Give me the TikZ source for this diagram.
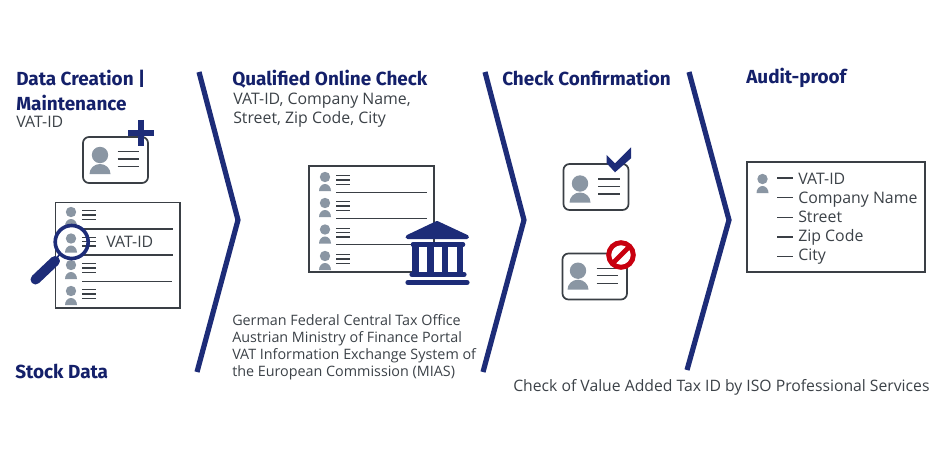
\documentclass[tikz,border=0pt]{standalone}
\usepackage{fontspec}
\setmainfont{Open Sans}
\newfontfamily\headfont{Fira Sans}
\definecolor{navy}{HTML}{1D2C78}
\definecolor{headnavy}{HTML}{14206A}
\definecolor{pgray}{HTML}{8A96A3}
\definecolor{dark}{HTML}{3A3F45}
\definecolor{txt}{HTML}{3C4248}
\definecolor{stopred}{HTML}{C8000F}
\tikzset{
 chev/.style={draw=navy,line width=3.9pt,line join=miter},
 head/.style={inner sep=0pt,anchor=west,text=headnavy,font=\headfont\bfseries\fontsize{14.2pt}{17pt}\selectfont},
 body/.style={inner sep=0pt,anchor=base west,text=txt,font=\fontsize{11.9pt}{14pt}\selectfont},
 small/.style={body,font=\fontsize{10.75pt}{14pt}\selectfont},
 frame/.style={draw=dark,line width=0.95pt},
 rule/.style={draw=dark,line width=0.95pt},
 ln/.style={draw=dark,line width=1.05pt},
 idcard/.style={draw=dark,line width=1.3pt,rounded corners=4.5pt,fill=white},
 person/.pic={
   \fill[pgray] (0,-3) circle (5.2);
   \fill[pgray] (-6,11) arc[start angle=180,end angle=360,x radius=6,y radius=7] -- cycle;
 },
 bigperson/.pic={
   \fill[pgray] (0,0) circle (8.2);
   \fill[pgray] (-10.5,19) arc[start angle=180,end angle=360,x radius=10.5,y radius=10] -- cycle;
 },
 rowlines/.pic={
   \draw[ln] (0,-4.3) -- (14,-4.3) (0,0) -- (14,0) (0,4.3) -- (14,4.3);
 },
 cardlines/.pic={
   \draw[ln] (0,-7.5) -- (21.5,-7.5) (0,0) -- (21.5,0) (0,7.5) -- (21.5,7.5);
 },
}
\begin{document}
\begin{tikzpicture}[x=0.75pt,y=-0.75pt]
\useasboundingbox (0,0) rectangle (945,456);
\fill[white] (0,0) rectangle (945,456);
% chevrons
\draw[chev] (199,72) -- (238,220) -- (197,372);
\draw[chev] (485,72) -- (524,220) -- (483,372);
\draw[chev] (689,72) -- (729,220) -- (687,370);
% headings
\node[head] (h1) at (16,79) {Data Creation |};
\node[head] (h1b) at (16,103) {Maintenance};
\node[head] (h2) at (15,371) {Stock Data};
\node[head] (h3) at (232,79) {Qualified Online Check};
\node[head] (h4) at (502,78) {Check Confirmation};
\node[head] (h5) at (746,78) {Audit-proof};
% body text
\node[body] (t1) at (16,127.7) {VAT-ID};
\node[body] (t2) at (233,104.5) {VAT-ID, Company Name,};
\node[body] (t3) at (233,124) {Street, Zip Code, City};
\node[small] (t4) at (232,325.3) {German Federal Central Tax Office};
\node[small] (t5) at (232,342.3) {Austrian Ministry of Finance Portal};
\node[small] (t6) at (232,359.3) {VAT Information Exchange System of};
\node[small] (t7) at (232,376.7) {the European Commission (MIAS)};
\node[body,font=\fontsize{11.8pt}{14pt}\selectfont] (t8) at (513,391.7) {Check of Value Added Tax ID by ISO Professional Services};
% card with plus
\draw[idcard] (83,137) rectangle (148,183);
\pic at (100,155) {bigperson};
\pic at (117.5,159) {cardlines};
\draw[navy,line width=3.9pt] (128,133) -- (154,133) (141,120) -- (141,146);
% list 1
\draw[frame] (55.5,202.5) rectangle (180,308);
\foreach \y in {215,241.5,268,294}{
  \pic at (71,\y) {person};
  \pic at (82,\y) {rowlines};
}
\draw[rule] (82,229) -- (173,229) (82,255) -- (173,255) (82,281.5) -- (172,281.5);
\node[body] (v) at (106,247) {VAT-ID};
% magnifier
\draw[navy,line width=2.7pt] (71.7,242) circle (16.5);
\draw[navy,line width=1.2pt] (60,254) -- (55,260);
\draw[navy,line width=7.5pt,line cap=round] (55,261) -- (35.5,279.5);
% list 2
\draw[frame] (309,166) rectangle (434,272);
\foreach \y in {180,206,232.5,259}{
  \pic at (325,\y) {person};
  \pic at (336,\y) {rowlines};
}
\draw[rule] (336,192.5) -- (427,192.5) (336,218.5) -- (427,218.5) (336,244.5) -- (420,244.5);
% bank
\fill[white] (412,244) rectangle (464,274);
\fill[navy,draw=navy,line width=3pt,line join=round] (437,223) -- (467,237) -- (407.5,237) -- cycle;
\draw[navy,line width=3.4pt,line cap=round] (413,244.5) -- (463,244.5);
\draw[navy,line width=5pt] (415.5,244) -- (415.5,274) (430.5,244) -- (430.5,274) (445,244) -- (445,274) (460,244) -- (460,274);
\draw[navy,line width=3.9pt,line cap=round] (412,274.5) -- (464,274.5);
\draw[navy,line width=3.9pt,line cap=round] (408,282.5) -- (467,282.5);
% check card
\draw[idcard] (563.5,164) rectangle (628.5,210);
\pic at (580,183.5) {bigperson};
\pic at (598,186.5) {cardlines};
\fill[navy] (606.7,155) -- (615,163.3) -- (631,147.3) -- (631,158.3) -- (615,172.3) -- (606.7,163.3) -- cycle;
% stop card
\draw[idcard] (562.5,253.5) rectangle (627,299.5);
\pic at (578,270.7) {bigperson};
\pic at (596.5,275.7) {cardlines};
\fill[white] (621,255) circle (14);
\draw[stopred,line width=3.7pt] (621,255) circle (12.3);
\draw[stopred,line width=3.7pt] (612.5,263.5) -- (629.5,246.5);
% audit box
\draw[frame] (747,162) rectangle (925,272);
\pic at (762.5,182) {person};
\foreach \y in {178,197.5,217.5,237,256.5}{
  \draw[ln] (777,\y) -- (793,\y);
}
\node[body] (a1) at (798,184.5) {VAT-ID};
\node[body] (a2) at (798,203.5) {Company Name};
\node[body] (a3) at (798,222.5) {Street};
\node[body] (a4) at (798,241.5) {Zip Code};
\node[body] (a5) at (798,260.5) {City};
\end{tikzpicture}
\end{document}
